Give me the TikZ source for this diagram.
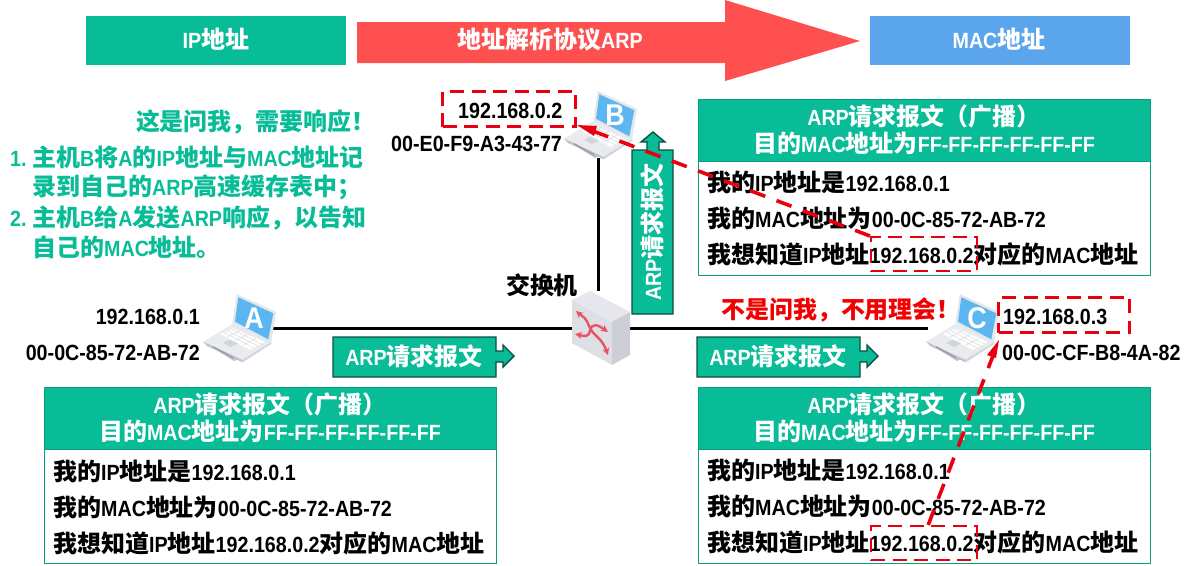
\documentclass[tikz,border=0pt]{standalone}
\usepackage{fontspec}
\setmainfont[FakeStretch=0.895]{Liberation Sans}
\newfontfamily\zhfont[Scale=1.09]{Noto Sans CJK SC}
\newcommand{\zh}[1]{{\zhfont\bfseries #1}}
\definecolor{teal1}{HTML}{07BC97}
\definecolor{teal2}{HTML}{0A9E80}
\definecolor{tealdk}{HTML}{0B4F42}
\definecolor{redarrow}{HTML}{FF5050}
\definecolor{bluebox}{HTML}{5BA5EC}
\definecolor{dashred}{HTML}{E8000E}
\definecolor{scr}{HTML}{5CB6F2}
\definecolor{lapg}{HTML}{E9EBEF}
\definecolor{lapd}{HTML}{BFC3CB}
\definecolor{swfront}{HTML}{DDDFE5}
\definecolor{swtop}{HTML}{E6E7EC}
\definecolor{swside}{HTML}{CBCED6}
\definecolor{swred}{HTML}{EA5264}
\usetikzlibrary{calc,arrows.meta}
\tikzset{
  x=1pt,y=-1pt,
  txt/.style={font=\fontsize{22}{26}\selectfont\bfseries,inner sep=0pt,anchor=base west},
  ctr/.style={font=\fontsize{22}{26}\selectfont\bfseries,inner sep=0pt,anchor=base},
  topbox/.style={minimum width=259pt,minimum height=48pt,inner sep=0pt,anchor=north west,draw=#1,fill=#1,line width=.6pt},
  phead/.style={minimum width=452pt,minimum height=62pt,anchor=north west,draw=teal2,fill=teal1,line width=1pt,inner sep=0pt},
  pbody/.style={minimum width=452pt,minimum height=114pt,anchor=north west,draw=teal2,fill=white,line width=1pt,inner sep=0pt},
  dashbox/.style={draw=dashred,line width=#1,dash pattern=on 14pt off 7.5pt,inner sep=0pt,anchor=north west},
  wire/.style={line width=3pt,black},
  redline/.style={draw=dashred,line width=3.6pt,dash pattern=on 16pt off 12pt},
  lapnode/.style={minimum width=68pt,minimum height=66pt,inner sep=0pt},
  swnode/.style={minimum width=58pt,minimum height=74pt,inner sep=0pt},
  callout/.style={draw=tealdk,fill=teal1,line width=1.4pt,line join=miter},
  swarrow/.style={swred,line width=2.4pt,-{Stealth[length=7pt,width=7pt]}},
}
\newcommand{\laptopart}[3]{%
\begin{scope}[shift={(#1,#2)}]
  \fill[lapd] (-36,14) -- (-5,33) -- (32,16) -- (32,12) -- (4,34) -- cycle;
  \fill[lapg] (-35.7,13.7) -- (-5.7,-4.7) -- (32,15.3) -- (3.7,34.3) -- cycle;
  \fill[lapd] (-35.7,13.7) -- (3.7,32) -- (3.7,34.3) -- (-32,18) -- cycle;
  \fill[lapd!70!white] (3.7,31.5) -- (32,14.5) -- (32,16) -- (3.7,34.3) -- cycle;
  \fill[white] (-19,6) -- (-6,0.5) -- (26,14) -- (11,22) -- cycle;
  \draw[lapd!60!white,line width=.5pt] (-15,4.5) -- (15,20) (-11,3) -- (19,18) (-7,1.5) -- (23,16)
     (-12,9) -- (1,2.5) (-4,13) -- (9,6) (4,17) -- (17,10);
  \fill[lapd!70!white] (-16,15) -- (-9.5,11.5) -- (-1,15.5) -- (-8,19) -- cycle;
  \fill[lapd!80!black] (-26,18) -- (-6,29) -- (-6,30.5) -- (-26,19.5) -- cycle;
  \fill[lapg!90!lapd] (-2.3,-34) -- (37,-16.3) -- (32,15.3) -- (-6.7,-4.7) -- cycle;
  \fill[scr] (-0.7,-30.7) -- (34.3,-14.7) -- (29.3,11.3) -- (-4,-6.3) -- cycle;
  \node[font=\fontsize{30}{30}\selectfont\bfseries,text=white,inner sep=0pt] (lt#3) at (15,-10) {#3};
\end{scope}}
\begin{document}
\begin{tikzpicture}
\useasboundingbox (0,0) rectangle (1202,565);
% top band
\node[topbox=teal1] (ipb) at (86,16) {};
\node[ctr,text=white] (ipt) at (216,48) {IP\zh{地址}};
\fill[redarrow] (357,22) -- (725,22) -- (725,0) -- (860,41) -- (725,81) -- (725,63) -- (357,63) -- cycle;
\node[ctr,text=white] (arpt) at (550,48) {\zh{地址解析协议}ARP};
\node[topbox=bluebox] (macb) at (870,16) {};
\node[ctr,text=white] (mact) at (999,48) {MAC\zh{地址}};
% nodes (hidden frames for connectors)
\node[lapnode] (lapA) at (239,328) {};
\node[lapnode] (lapB) at (598,125) {};
\node[lapnode] (lapC) at (962,328) {};
\node[swnode] (sw) at (601,328) {};
% wires
\draw[wire] (lapA.east) -- (sw.west);
\draw[wire] (sw.east) -- (lapC.west);
\draw[wire] (lapB.south) -- (lapB.south |- sw.north);
% devices
\laptopart{239}{328}{A}
\laptopart{600}{125}{B}
\laptopart{962}{328}{C}
\fill[swfront] (572,300) -- (612,322) -- (612,365) -- (572,343) -- cycle;
\fill[swtop] (572,300) -- (590,291) -- (630,312) -- (612,322) -- cycle;
\fill[swside] (612,322) -- (630,312) -- (630,355) -- (612,365) -- cycle;
\draw[swarrow] (590,328) .. controls (585,316) and (584,318) .. (576,311);
\draw[swarrow] (590,328) .. controls (594,336) and (602,338) .. (608,355);
\draw[swarrow] (590,331) .. controls (592,322) and (598,325) .. (608,332);
\draw[swarrow] (590,331) .. controls (588,338) and (584,336) .. (575,334);
\node[ctr] (swl) at (542,294) {\zh{交换机}};
% address labels
\node[txt,anchor=base east] (aip) at (200,324) {192.168.0.1};
\node[txt,anchor=base east] (amac) at (200,360) {00-0C-85-72-AB-72};
\node[txt] (bip) at (458,118) {192.168.0.2};
\node[txt] (bmac) at (391,151) {00-E0-F9-A3-43-77};
\node[txt] (cip) at (1003,324) {192.168.0.3};
\node[txt] (cmac) at (1002,360) {00-0C-CF-B8-4A-82};
% green notes
\node[txt,text=teal1,anchor=base east] (g0) at (376,130) {\zh{这是问我，需要响应！}};
\node[txt,text=teal1] (g1) at (10,166) {1.};
\node[txt,text=teal1] (g1a) at (32,166) {\zh{主机}B\zh{将}A\zh{的}IP\zh{地址与}MAC\zh{地址记}};
\node[txt,text=teal1] (g1b) at (32,195) {\zh{录到自己的}ARP\zh{高速缓存表中；}};
\node[txt,text=teal1] (g2) at (10,226) {2.};
\node[txt,text=teal1] (g2a) at (32,226) {\zh{主机}B\zh{给}A\zh{发送}ARP\zh{响应，以告知}};
\node[txt,text=teal1] (g2b) at (32,256) {\zh{自己的}MAC\zh{地址。}};
\node[txt,text={rgb,255:red,240;green,0;blue,0},anchor=base] (rn) at (841,318) {\zh{不是问我，不用理会！}};
% callouts
\draw[callout] (333,337) -- (496,337) -- (496,351) -- (503,351) -- (503,345) -- (514,356) -- (503,367) -- (503,362) -- (496,362) -- (496,377) -- (333,377) -- cycle;
\node[ctr,text=white] (c1) at (414,365) {ARP\zh{请求报文}};
\draw[callout] (697,337) -- (860,337) -- (860,351) -- (867,351) -- (867,345) -- (878,356) -- (867,367) -- (867,362) -- (860,362) -- (860,377) -- (697,377) -- cycle;
\node[ctr,text=white] (c2) at (778,365) {ARP\zh{请求报文}};
\draw[callout] (632,314) -- (632,150) -- (647,150) -- (647,142) -- (641,142) -- (653,132) -- (665,142) -- (659,142) -- (659,150) -- (673,150) -- (673,314) -- cycle;
\node[ctr,text=white,rotate=90] (c3) at (661,232) {ARP\zh{请求报文}};
% panels
\newcommand{\panel}[5]{%
  \node[phead] (h#1) at (#2,#3) {};
  \node[pbody] (b#1) at (#2,#3+62) {};
  \node[ctr,text=white] (h#1a) at (#2+226,#3+26) {ARP\zh{请求报文（广播）}};
  \node[ctr,text=white] (h#1b) at (#2+226,#3+53) {\zh{目的}MAC\zh{地址为}FF-FF-FF-FF-FF-FF};
  \node[txt] (l#1a) at (#2+9,#3+#4) {\zh{我的}IP\zh{地址是}192.168.0.1};
  \node[txt] (l#1b) at (#2+9,#3+#4+36) {\zh{我的}MAC\zh{地址为}00-0C-85-72-AB-72};
  \node[txt] (l#1c) at (#2+9,#3+#4+72) {\zh{我想知道}IP\zh{地址}192.168.0.2\zh{对应的}MAC\zh{地址}};
}
\panel{L}{44}{387}{93}{}
\panel{T}{698}{99}{92}{}
\panel{R}{698}{387}{92}{}
% dashed frames
\node[dashbox=3pt,minimum width=133pt,minimum height=35pt] (dB) at (441,90) {};
\node[dashbox=3pt,minimum width=131pt,minimum height=35pt] (dC) at (997,296) {};
\node[dashbox=2.4pt,minimum width=106pt,minimum height=34pt] (dT) at (870,236) {};
\node[dashbox=2.4pt,minimum width=106pt,minimum height=34pt] (dR) at (870,525) {};
% red dashed arrows
\coordinate (tipB) at ([yshift=3pt]dB.south east);
\coordinate (tipC) at ([shift={(2pt,-6pt)}]dC.south west);
\draw[redline] (dT.north west) -- ($(dT.north west)!0.94!(tipB)$);
\fill[dashred] (tipB) -- ++(17,11) -- ++(3,-10) -- cycle;
\draw[redline] ([xshift=4pt]dR.north) -- ($([xshift=4pt]dR.north)!0.92!(tipC)$);
\fill[dashred] (tipC) -- ++(-12,15) -- ++(9,3) -- cycle;
\end{tikzpicture}
\end{document}
